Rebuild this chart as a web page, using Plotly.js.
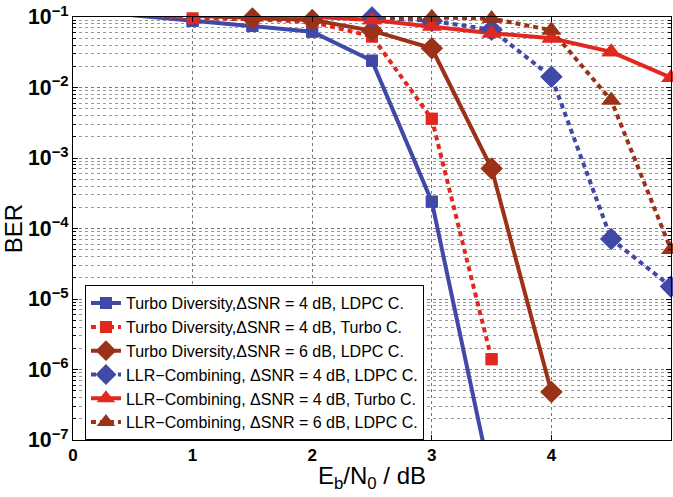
<!DOCTYPE html>
<html><head><meta charset="utf-8">
<script src="https://cdn.plot.ly/plotly-3.0.1.min.js"></script>
<style>html,body{margin:0;padding:0;background:#fff}#chart{width:673px;height:497px}</style>
</head><body><div id="chart"></div>
<script>
// Series names (legend)
const seriesNames = [
  "Turbo Diversity,\u0394SNR = 4 dB, LDPC C.",
  "Turbo Diversity,\u0394SNR = 4 dB, Turbo C.",
  "Turbo Diversity,\u0394SNR = 6 dB, LDPC C.",
  "LLR\u2212Combining, \u0394SNR = 4 dB, LDPC C.",
  "LLR\u2212Combining, \u0394SNR = 4 dB, Turbo C.",
  "LLR\u2212Combining, \u0394SNR = 6 dB, LDPC C."
];
// Eb/N0 values (dB) and BER values per series
const x_td4_ldpc  = [0.5, 1, 1.5, 2, 2.5, 3, 3.5];
const y_td4_ldpc  = [0.106, 0.088, 0.075, 0.062, 0.024, 2.4e-4, 2.5e-8];
const x_td4_turbo = [0.5, 1, 1.5, 2, 2.5, 3, 3.5];
const y_td4_turbo = [0.11, 0.096, 0.093, 0.085, 0.053, 3.6e-3, 1.4e-6];
const x_td6_ldpc  = [1, 1.5, 2, 2.5, 3, 3.5, 4];
const y_td6_ldpc  = [0.104, 0.096, 0.091, 0.064, 0.036, 7.1e-4, 4.8e-7];
const x_llr4_ldpc = [2.5, 3, 3.5, 4, 4.5, 5];
const y_llr4_ldpc = [0.099, 0.088, 0.066, 0.0142, 7.1e-5, 1.5e-5];
const x_llr4_turbo = [1.5, 2, 2.5, 3, 3.5, 4, 4.5, 5];
const y_llr4_turbo = [0.108, 0.101, 0.091, 0.074, 0.059, 0.05, 0.032, 0.0138];
const x_llr6_ldpc = [2.5, 3, 3.5, 4, 4.5, 5];
const y_llr6_ldpc = [0.102, 0.099, 0.095, 0.065, 6.6e-3, 5e-5];

const xTicks = [0, 1, 2, 3, 4, 5];

const BLUE = '#4048A8', RED = '#E2281E', BROWN = '#9B3218';
const DOT = '5px,4px';
const styles = [
  {color: BLUE,  dash: 'solid', symbol: 'square',       size: 12},
  {color: RED,   dash: DOT,     symbol: 'square',       size: 12},
  {color: BROWN, dash: 'solid', symbol: 'diamond',      size: 17},
  {color: BLUE,  dash: DOT,     symbol: 'diamond',      size: 17},
  {color: RED,   dash: 'solid', symbol: 'triangle-up',  size: 17},
  {color: BROWN, dash: DOT,     symbol: 'triangle-up',  size: 17}
];
const xs = [x_td4_ldpc, x_td4_turbo, x_td6_ldpc, x_llr4_ldpc, x_llr4_turbo, x_llr6_ldpc];
const ys = [y_td4_ldpc, y_td4_turbo, y_td6_ldpc, y_llr4_ldpc, y_llr4_turbo, y_llr6_ldpc];

const traces = [];
const markerTraces = [];
for (let i = 0; i < 6; i++) {
  const s = styles[i];
  traces.push({
    x: xs[i], y: ys[i], name: seriesNames[i], type: 'scatter', mode: 'lines+markers',
    line: {color: s.color, width: 4, dash: s.dash},
    marker: {color: s.color, symbol: s.symbol, size: s.size, line: {width: 0}},
    cliponaxis: true
  });
  const mx = [], my = [];
  xs[i].forEach((v, k) => { const b = ys[i][k]; if (b <= 0.1 && b >= 1e-7) { mx.push(v); my.push(b); } });
  markerTraces.push({
    x: mx, y: my, type: 'scatter', mode: 'markers', showlegend: false, hoverinfo: 'skip',
    marker: {color: s.color, symbol: s.symbol, size: s.size, line: {width: 0}},
    cliponaxis: false
  });
}

const layout = {
  width: 673, height: 497,
  margin: {l: 73, r: 2, t: 17, b: 57},
  paper_bgcolor: '#fff', plot_bgcolor: '#fff',
  font: {family: 'Liberation Sans, Arial, sans-serif', color: '#000'},
  showlegend: true,
  legend: {
    x: 0.02, y: 0.366, xanchor: 'left', yanchor: 'top',
    bgcolor: '#fff', bordercolor: '#000', borderwidth: 1,
    font: {size: 16, family: 'Liberation Sans, Arial, sans-serif'},
    tracegroupgap: 0
  },
  xaxis: {
    range: [0, 5], tickvals: xTicks, ticktext: xTicks.map(String),
    ticks: 'inside', ticklen: 5, tickcolor: '#000',
    showline: true, linecolor: '#000', linewidth: 1, mirror: 'ticks',
    showgrid: true, gridcolor: '#777', griddash: 'dot', gridwidth: 1,
    zeroline: false,
    tickfont: {size: 17, weight: 'bold'},
    title: {text: 'E<sub>b</sub>/N<sub>0</sub> / dB', font: {size: 24}, standoff: 2}
  },
  yaxis: {
    type: 'log', range: [-7, -1], dtick: 1, exponentformat: 'power',
    ticks: 'inside', ticklen: 5, tickcolor: '#000',
    showline: true, linecolor: '#000', linewidth: 1, mirror: 'ticks',
    showgrid: true, gridcolor: '#777', griddash: 'dot', gridwidth: 1,
    zeroline: false,
    tickfont: {size: 17, weight: 'bold'},
    minor: {dtick: 'D1', ticks: 'inside', ticklen: 3, tickcolor: '#000', showgrid: true, gridcolor: '#999', griddash: 'dot'},
    title: {text: 'BER', font: {size: 24}, standoff: 4}
  }
};

Plotly.newPlot('chart', traces.concat(markerTraces), layout, {staticPlot: true, displayModeBar: false});
</script></body></html>
